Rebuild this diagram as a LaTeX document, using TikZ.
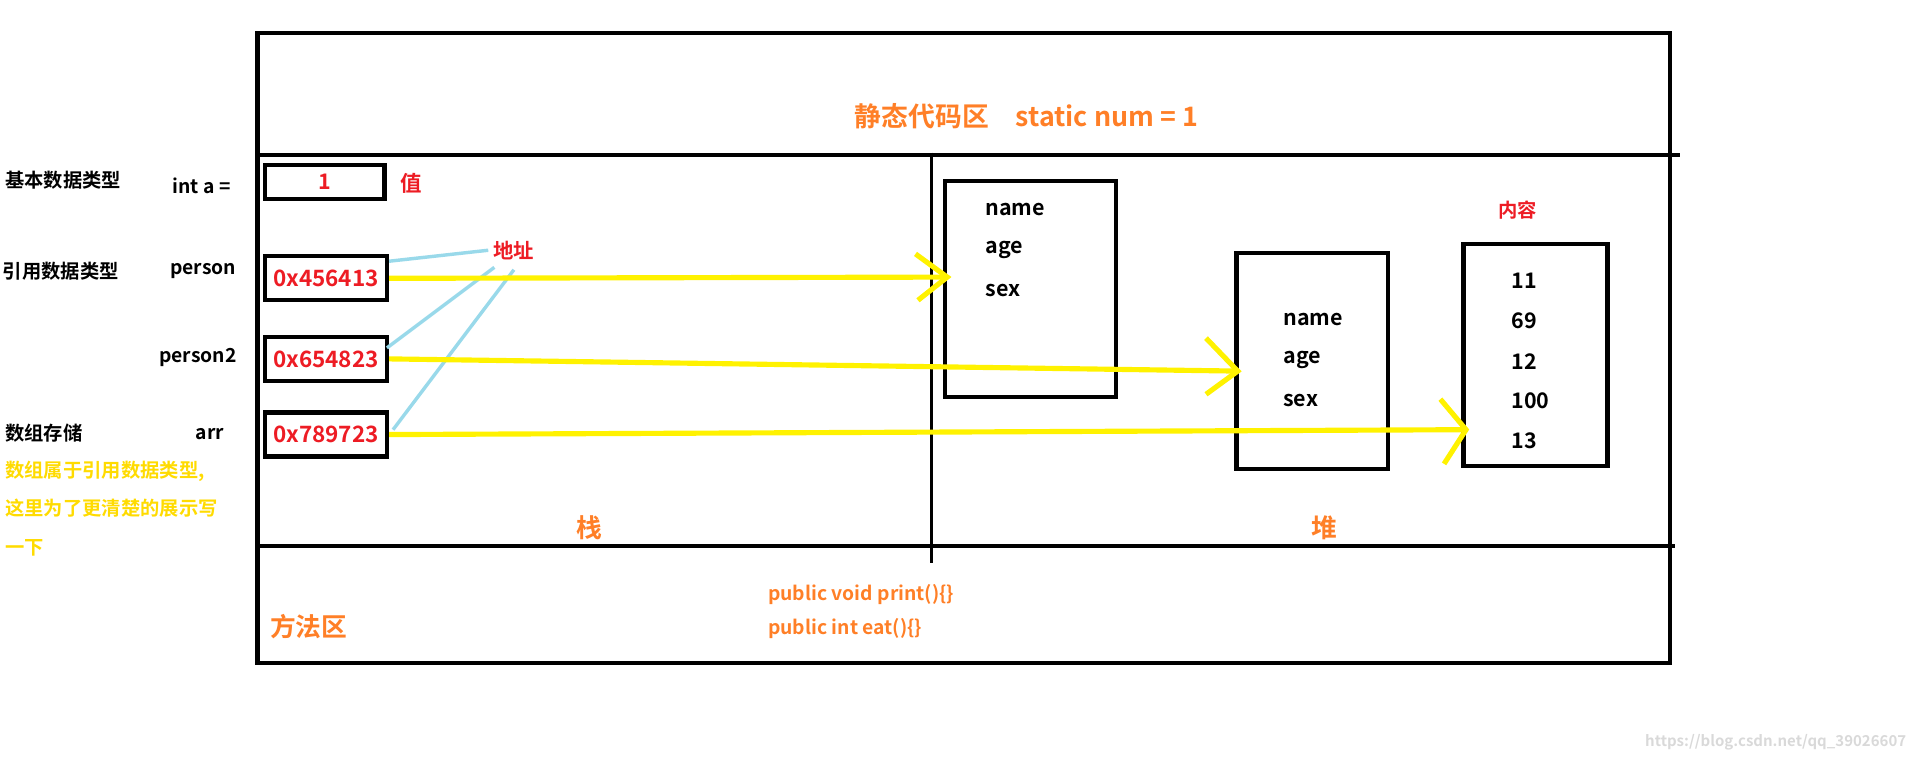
\documentclass[tikz,border=0pt]{standalone}
\usepackage{fontspec}
\setmainfont{Noto Sans CJK SC Bold}
\definecolor{ora}{HTML}{FF7F27}
\definecolor{rd}{HTML}{ED1C24}
\definecolor{yl}{HTML}{FFF200}
\definecolor{lb}{HTML}{99D9EA}
\tikzset{
 box/.style={draw,line width=2pt},
 wall/.style={line width=2pt},
 t/.style={font=\fontsize{10}{12}\selectfont,inner sep=0pt,anchor=west},
 yarr/.style={yl,line width=2.4pt,line join=miter},
 bl/.style={lb,line width=1.6pt}
}
\begin{document}
\begin{tikzpicture}[x=0.02cm,y=-0.02cm]
\useasboundingbox (0,0) rectangle (1568,623);
\draw[wall] (211,27) rectangle (1368,543);
\draw[wall] (211,127) -- (1376,127);
\draw[wall] (211,447) -- (1372,447);
\draw[line width=1.2pt] (763,125) -- (763,461);
% stack boxes
\node[box,minimum width=1.96cm,minimum height=0.56cm,text=rd,font=\fontsize{10}{12}\selectfont] (v1) at (266,149) {1};
\node[box,minimum width=2cm,minimum height=0.72cm,text=rd,font=\fontsize{10.5}{12}\selectfont,inner sep=0pt] (p1) at (267,228) {0x456413};
\node[box,minimum width=2cm,minimum height=0.72cm,text=rd,font=\fontsize{10.5}{12}\selectfont,inner sep=0pt] (p2) at (267,294) {0x654823};
\node[box,minimum width=2cm,minimum height=0.72cm,text=rd,font=\fontsize{10.5}{12}\selectfont,inner sep=0pt] (p3) at (267,356) {0x789723};
% heap boxes
\node[box,minimum width=2.8cm,minimum height=3.54cm] (h1) at (844,236.5) {};
\node[box,minimum width=2.48cm,minimum height=3.54cm] (h2) at (1075,295.5) {};
\node[box,minimum width=2.36cm,minimum height=3.64cm] (h3) at (1258,291) {};
\node[t] (n1) at (807,172) {name};
\node[t] (a1) at (807,205) {age};
\node[t] (s1) at (807,238) {sex};
\node[t] (n2) at (1051,262) {name};
\node[t] (a2) at (1051,295) {age};
\node[t] (s2) at (1051,328) {sex};
\node[t] (c1) at (1238,230) {11};
\node[t] (c2) at (1238,263) {69};
\node[t] (c3) at (1238,296) {12};
\node[t] (c4) at (1238,328) {100};
\node[t] (c5) at (1238,361) {13};
\node[t,text=rd,font=\fontsize{9}{11}\selectfont] (nr) at (1227,172) {内容};
% left labels
\node[t,font=\fontsize{9}{11}\selectfont] (l1) at (4,148) {基本数据类型};
\node[t,font=\fontsize{9}{11}\selectfont] (l1b) at (141,152) {int a =};
\node[t,text=rd,font=\fontsize{10}{12}\selectfont] (zhi) at (328,150) {值};
\node[t,font=\fontsize{9}{11}\selectfont] (l2) at (2,222) {引用数据类型};
\node[t,font=\fontsize{9}{11}\selectfont] (l2b) at (139,222) {person};
\node[t,font=\fontsize{9}{11}\selectfont] (l3b) at (130,293) {person2};
\node[t,font=\fontsize{9}{11}\selectfont] (l4) at (4,355) {数组存储};
\node[t,font=\fontsize{9}{11}\selectfont] (l4b) at (160,356) {arr};
\node[t,text=yl!80!orange,font=\fontsize{9}{11}\selectfont,align=left,anchor=north west] (note) at (4,377) {数组属于引用数据类型,\\[7pt]这里为了更清楚的展示写\\[7pt]一下};
\node[t,text=rd,font=\fontsize{9.5}{11}\selectfont] (addr) at (404,205) {地址};
% blue lines
\draw[bl] (p1.east) ++(0,-14) coordinate (b1) -- (400,205);
\draw[bl] (317,285) -- (405,219);
\draw[bl] (322,352) -- (421,221);
% yellow arrows
\draw[yarr] (p1.east) -- (776,227);
\draw[yarr] (750,208) -- (776,227) -- (752,246);
\draw[yarr] (p2.east) -- (1014,304);
\draw[yarr] (988,277) -- (1014,304) -- (988,323);
\draw[yarr] (p3.east) -- (1201,352);
\draw[yarr] (1180,327) -- (1201,352) -- (1183,380);
% region labels
\node[t,text=ora,font=\fontsize{12.5}{14}\selectfont] (jt) at (700,95) {静态代码区\quad static num = 1};
\node[t,text=ora,font=\fontsize{12}{14}\selectfont] (zhan) at (472,432) {栈};
\node[t,text=ora,font=\fontsize{12}{14}\selectfont] (dui) at (1074,432) {堆};
\node[t,text=ora,font=\fontsize{12}{14}\selectfont] (ff) at (221,513) {方法区};
\node[t,text=ora,font=\fontsize{9}{11}\selectfont] (m1) at (629,487) {public void print()\{\}};
\node[t,text=ora,font=\fontsize{9}{11}\selectfont] (m2) at (629,515) {public int eat()\{\}};
\node[t,text=black!15,font=\fontsize{7}{8}\selectfont,anchor=east] (wm) at (1562,608) {https://blog.csdn.net/qq\_39026607};
\end{tikzpicture}
\end{document}
